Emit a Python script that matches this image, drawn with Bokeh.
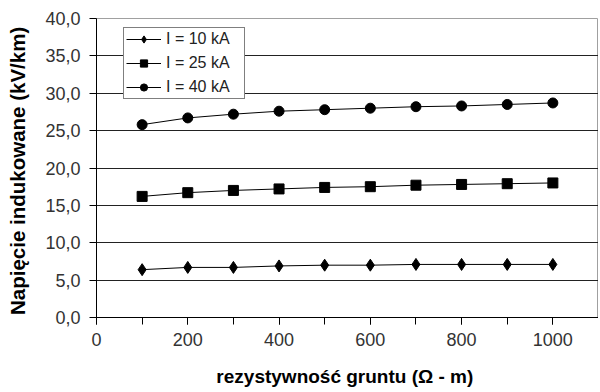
from bokeh.plotting import figure
from bokeh.embed import file_html
from bokeh.resources import INLINE
from bokeh.models import Range1d, SingleIntervalTicker, CustomJSTickFormatter, Legend, LegendItem

rho = [100, 200, 300, 400, 500, 600, 700, 800, 900, 1000]
u10 = [6.4, 6.7, 6.7, 6.9, 7.0, 7.0, 7.1, 7.1, 7.1, 7.1]
u25 = [16.2, 16.7, 17.0, 17.2, 17.4, 17.5, 17.7, 17.8, 17.9, 18.0]
u40 = [25.8, 26.7, 27.2, 27.6, 27.8, 28.0, 28.2, 28.3, 28.5, 28.7]
labels = ["I = 10 kA", "I = 25 kA", "I = 40 kA"]

p = figure(frame_width=502, frame_height=299, min_border_left=96, min_border_right=0,
           min_border_top=18, min_border_bottom=72,
           output_backend="svg", toolbar_location=None,
           x_range=Range1d(0, 1100), y_range=Range1d(0, 40))
p.outline_line_color = "#a0a0a0"
p.outline_line_width = 1
p.background_fill_color = "white"

font = "Liberation Sans"
r1l = p.line(rho, u10, line_color="black", line_width=1)
r1m = p.scatter(rho, u10, marker="diamond", size=12, color="black")
r2l = p.line(rho, u25, line_color="black", line_width=1)
r2m = p.scatter(rho, u25, marker="square", size=10, color="black")
r3l = p.line(rho, u40, line_color="black", line_width=1)
r3m = p.scatter(rho, u40, marker="circle", size=10, color="black")

p.xaxis.ticker = SingleIntervalTicker(interval=200, num_minor_ticks=2)
p.yaxis.ticker = SingleIntervalTicker(interval=5, num_minor_ticks=0)
p.yaxis.formatter = CustomJSTickFormatter(code="return tick.toFixed(1).replace('.', ',');")

for ax in (p.xaxis[0], p.yaxis[0]):
    ax.axis_line_color = "black"
    ax.axis_line_width = 1
    ax.major_tick_line_color = "black"
    ax.major_tick_out = 7
    ax.major_tick_in = 0
    ax.minor_tick_line_color = "black"
    ax.minor_tick_out = 7
    ax.minor_tick_in = 0
    ax.major_label_text_font = font
    ax.major_label_text_font_size = "18px"
    ax.major_label_text_color = "#333333"
    ax.axis_label_text_font = font
    ax.axis_label_text_font_style = "bold"
    ax.axis_label_text_color = "black"

p.xaxis.axis_label_text_font_size = "19px"
p.yaxis.axis_label_text_font_size = "20.5px"
p.yaxis.minor_tick_line_color = None
p.xaxis.axis_label = "rezystywność  gruntu (Ω - m)"
p.yaxis.axis_label = "Napięcie indukowane  (kV/km)"
p.xaxis.major_label_standoff = 8
p.xaxis.axis_label_standoff = 17
p.yaxis.major_label_standoff = 9
p.yaxis.axis_label_standoff = 13

p.xgrid.grid_line_color = None
p.ygrid.grid_line_color = "#222222"
p.ygrid.grid_line_width = 1
p.ygrid.bounds = (0, 35)

legend = Legend(items=[LegendItem(label=labels[0], renderers=[r1l, r1m]),
                       LegendItem(label=labels[1], renderers=[r2l, r2m]),
                       LegendItem(label=labels[2], renderers=[r3l, r3m])],
                location=(27, 218))
legend.border_line_color = "black"
legend.border_line_width = 1
legend.background_fill_alpha = 1
legend.label_text_font = font
legend.label_text_font_size = "16px"
legend.label_text_color = "#222222"
legend.glyph_width = 35
legend.glyph_height = 18
legend.label_height = 18
legend.label_width = 76
legend.spacing = 6
legend.padding = 2
legend.margin = 0
legend.label_standoff = 5
p.add_layout(legend, "center")

open("out.html", "w").write(file_html(p, INLINE))
